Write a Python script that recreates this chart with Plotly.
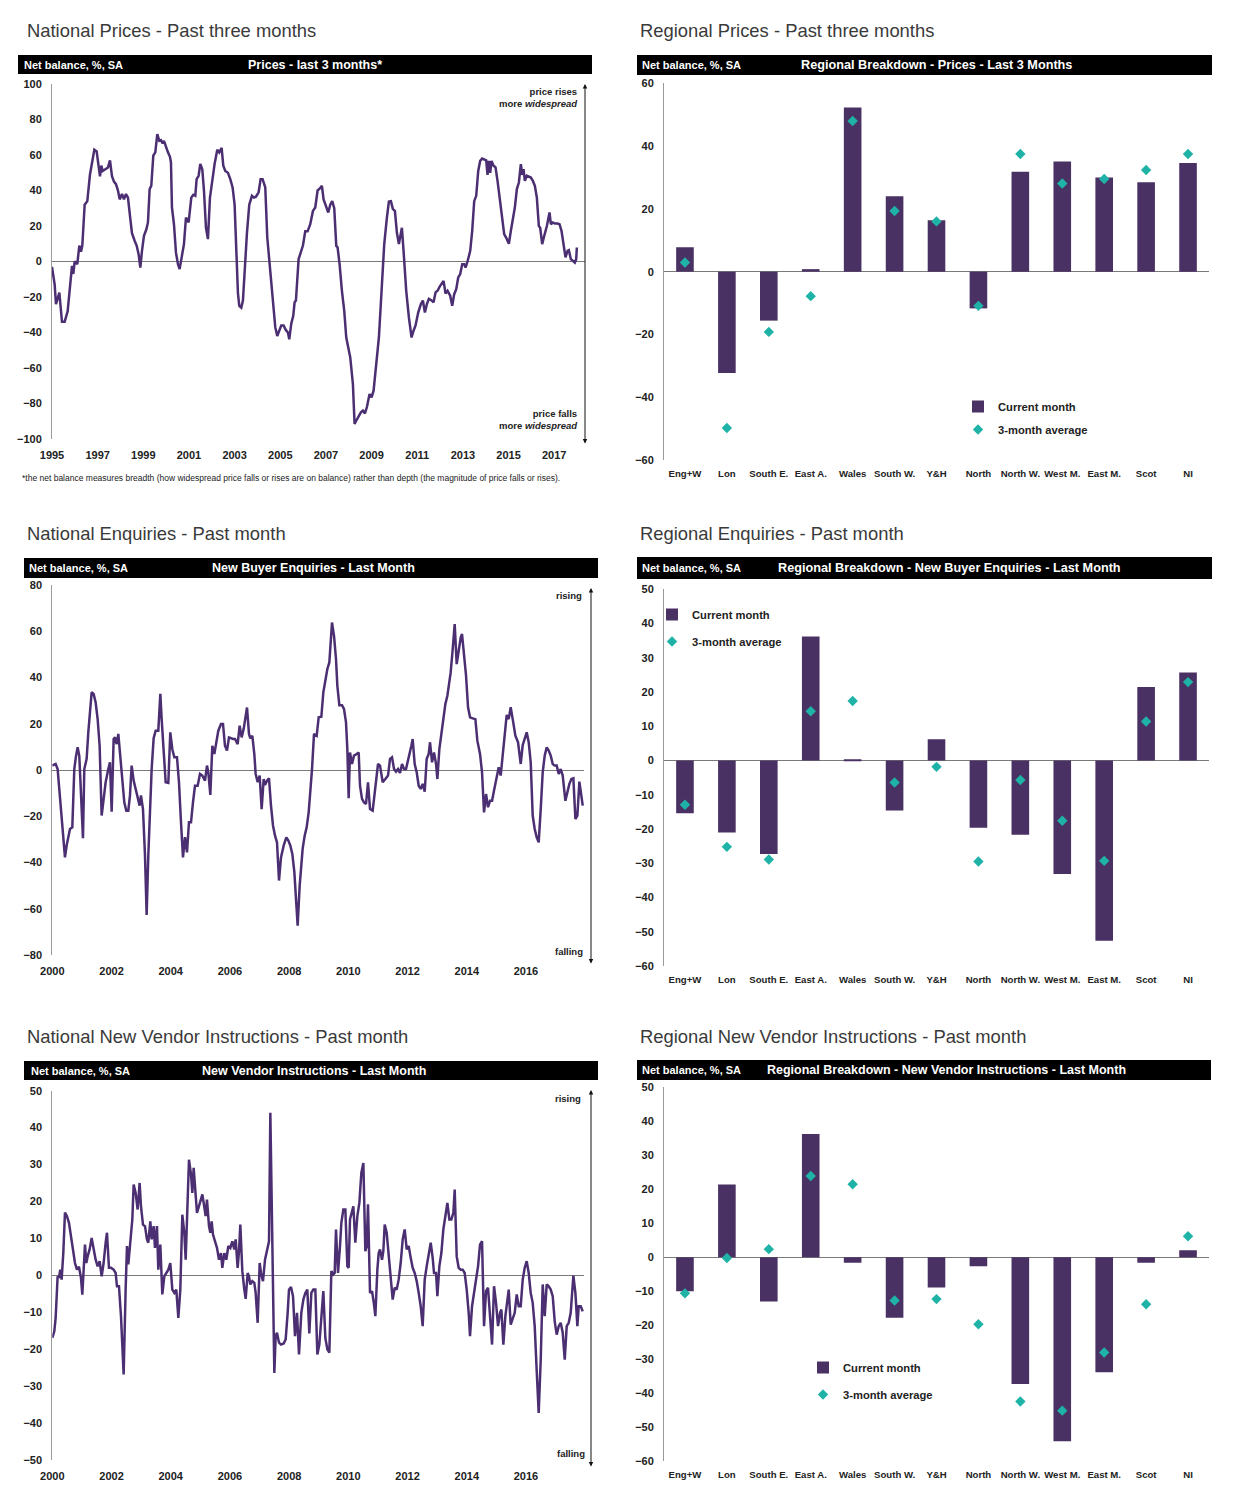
import plotly.graph_objects as go

# page body keeps an 8px margin, so the figure is sized to the area inside it
OFF = 8
W, H = 1220, 1492
def X(px): return (px - OFF) / W
def Y(py): return 1 - (py - OFF) / H

BOLDF = "Liberation Sans, Arial, sans-serif"
REG = "Liberation Sans, Arial, sans-serif"
LINE = "#4b2f72"
BAR = "#4a3163"
TEAL = "#1fb3a7"
TXT = "#222222"

# ---------------- National prices (3 months) ----------------
prices_years = [1995.000,1995.117,1995.175,1995.263,1995.321,1995.438,1995.555,1995.686,1995.803,1995.876,1995.934,1995.993,
1996.109,1996.197,1996.270,1996.328,1996.431,1996.547,1996.664,1996.766,1996.854,1996.956,1997.044,1997.102,1997.161,1997.219,
1997.336,1997.453,1997.540,1997.628,1997.715,1997.803,1997.891,1997.964,1998.066,1998.153,1998.241,1998.328,1998.431,1998.504,
1998.620,1998.708,1998.796,1998.869,1998.942,1999.029,1999.131,1999.204,1999.277,1999.350,1999.438,1999.526,1999.613,1999.701,
1999.774,1999.847,1999.905,1999.993,2000.080,2000.168,2000.212,2000.255,2000.343,2000.431,2000.518,2000.591,2000.693,2000.781,
2000.869,2000.985,2001.102,2001.190,2001.277,2001.336,2001.423,2001.496,2001.584,2001.657,2001.745,2001.832,2001.920,2002.007,
2002.124,2002.241,2002.328,2002.431,2002.504,2002.591,2002.708,2002.810,2002.912,2003.000,2003.073,2003.146,2003.204,2003.292,
2003.365,2003.438,2003.540,2003.642,2003.759,2003.847,2003.934,2004.051,2004.139,2004.226,2004.343,2004.431,2004.562,2004.664,
2004.781,2004.869,2004.956,2005.044,2005.146,2005.248,2005.336,2005.394,2005.482,2005.569,2005.628,2005.686,2005.803,2005.993,
2006.095,2006.197,2006.314,2006.431,2006.533,2006.635,2006.723,2006.825,2006.898,2007.015,2007.102,2007.190,2007.277,2007.365,
2007.453,2007.511,2007.599,2007.701,2007.803,2007.891,2007.949,2008.066,2008.182,2008.255,2008.328,2008.431,2008.533,2008.620,
2008.708,2008.796,2008.912,2009.000,2009.088,2009.204,2009.321,2009.438,2009.555,2009.672,2009.759,2009.847,2009.934,2010.022,
2010.109,2010.197,2010.255,2010.328,2010.401,2010.518,2010.635,2010.752,2010.839,2010.927,2011.044,2011.161,2011.248,2011.336,
2011.423,2011.511,2011.613,2011.715,2011.803,2011.891,2011.978,2012.066,2012.153,2012.241,2012.328,2012.445,2012.533,2012.620,
2012.708,2012.796,2012.883,2012.971,2013.058,2013.117,2013.204,2013.321,2013.409,2013.496,2013.584,2013.672,2013.759,2013.847,
2013.934,2014.022,2014.080,2014.139,2014.197,2014.255,2014.343,2014.431,2014.518,2014.606,2014.693,2014.810,2014.927,2015.015,
2015.102,2015.190,2015.277,2015.365,2015.453,2015.540,2015.599,2015.657,2015.715,2015.803,2015.891,2015.978,2016.066,2016.153,
2016.241,2016.328,2016.387,2016.474,2016.562,2016.679,2016.796,2016.854,2016.942,2017.029,2017.146,2017.234,2017.321,2017.409,
2017.496,2017.584,2017.642,2017.730,2017.818,2017.905,2017.964,2017.993]
prices_vals = [-3,-13,-24,-20,-17.5,-34,-34,-28,-13,-2.5,-7,0,
-1.5,9,5.5,9,32,34,49,58,63,62,55,48,54,51,
52,53,57,48,45,43.6,40,35,38,35,38,36,24,16,
11.7,9,4,-3.4,6,14.5,18,22,40.8,42.7,59.6,61.5,71.8,68,
68.4,66.5,68,64,61.5,59,55.8,30.5,21,5,-1.5,-4.3,2.3,9.8,
24.8,22,36,37.6,37,46.4,48.3,55,52,40,19,12.6,36,44.5,
55,63,61.5,64,54,51,50,46.4,41.7,32,9.8,-18,-25,-26,
-22,-5,16,32,37,36,36.5,39,46.4,46.4,41.7,13.5,-5,-24,
-37,-42,-39,-36,-36,-38.7,-40,-43.8,-35,-30.6,-23,-22,1.3,9,
17,17,21,28.5,30.4,40,41,42.6,35,30.4,27.6,32,34,30,
8.8,8,-1.5,-16.5,-27.8,-42.8,-46.5,-54,-69,-91.5,-89.7,-86.9,-85,-84,
-85.6,-82,-74.7,-76.5,-72.8,-57.8,-42.8,-16.5,9.8,24.8,33.8,34,29.5,28.5,
16.3,9.8,14.4,19,6,-16.5,-31.5,-42.8,-39,-36,-28.7,-24,-22,-28.7,
-24,-21,-21.8,-23,-17.4,-16.5,-14.3,-12.8,-10.9,-18,-16.5,-19.3,-25,-18.4,
-15.6,-9,-7.1,-1.5,-1.5,-3.4,0,6,17.3,34,37,51,56.7,58,
57.6,57,48.8,56.7,50,56.7,54,53,45.4,36,26.6,15.4,12.6,10,
17.3,24.8,30.4,40.8,44.5,54.8,48.8,52,45.4,48.3,47.7,47.3,45.4,42.6,
36,20,19,9.8,14.4,20,27.6,21,22,21.4,21.4,21,17.3,9.8,
2.3,6,6.4,1.3,0.4,-0.6,1.3,7.9]
prices_ticks = [1995,1997,1999,2001,2003,2005,2007,2009,2011,2013,2015,2017]

# ---------------- National new buyer enquiries ----------------
enq_years = [2000.000,2000.068,2000.113,2000.180,2000.259,2000.315,2000.372,2000.428,2000.484,2000.541,2000.597,2000.676,
2000.743,2000.800,2000.856,2000.912,2000.991,2001.036,2001.081,2001.160,2001.216,2001.284,2001.329,2001.396,2001.464,2001.532,
2001.599,2001.667,2001.734,2001.802,2001.892,2001.948,2002.005,2002.072,2002.117,2002.173,2002.230,2002.297,2002.365,2002.432,
2002.500,2002.568,2002.624,2002.680,2002.748,2002.815,2002.883,2002.950,2002.995,2003.063,2003.131,2003.187,2003.243,2003.300,
2003.356,2003.423,2003.491,2003.581,2003.649,2003.694,2003.761,2003.829,2003.919,2003.986,2004.054,2004.122,2004.212,2004.279,
2004.347,2004.414,2004.482,2004.550,2004.617,2004.685,2004.752,2004.820,2004.910,2004.989,2005.068,2005.158,2005.225,2005.270,
2005.338,2005.405,2005.473,2005.541,2005.608,2005.698,2005.766,2005.833,2005.901,2005.968,2006.036,2006.104,2006.171,2006.261,
2006.329,2006.396,2006.464,2006.577,2006.644,2006.689,2006.757,2006.824,2006.869,2006.937,2007.005,2007.072,2007.140,2007.185,
2007.252,2007.320,2007.387,2007.455,2007.523,2007.590,2007.658,2007.725,2007.815,2007.905,2007.973,2008.041,2008.108,2008.176,
2008.243,2008.288,2008.356,2008.457,2008.525,2008.592,2008.660,2008.727,2008.773,2008.840,2008.930,2008.998,2009.088,2009.155,
2009.223,2009.291,2009.358,2009.448,2009.516,2009.583,2009.628,2009.696,2009.786,2009.853,2009.921,2009.966,2010.011,2010.056,
2010.124,2010.191,2010.281,2010.349,2010.394,2010.462,2010.529,2010.597,2010.664,2010.732,2010.822,2010.912,2011.002,2011.070,
2011.160,2011.250,2011.340,2011.408,2011.475,2011.543,2011.610,2011.678,2011.745,2011.813,2011.881,2011.948,2012.038,2012.128,
2012.173,2012.241,2012.309,2012.376,2012.444,2012.511,2012.579,2012.646,2012.714,2012.759,2012.827,2012.894,2012.962,2013.007,
2013.074,2013.142,2013.209,2013.277,2013.345,2013.412,2013.457,2013.525,2013.592,2013.660,2013.727,2013.795,2013.840,2013.908,
2013.975,2014.043,2014.111,2014.201,2014.291,2014.358,2014.448,2014.516,2014.583,2014.651,2014.718,2014.786,2014.854,2014.921,
2014.989,2015.079,2015.146,2015.214,2015.282,2015.349,2015.417,2015.484,2015.552,2015.642,2015.732,2015.822,2015.890,2015.957,
2016.025,2016.092,2016.160,2016.227,2016.295,2016.363,2016.430,2016.498,2016.565,2016.633,2016.700,2016.768,2016.836,2016.903,
2016.971,2017.038,2017.106,2017.173,2017.241,2017.331,2017.399,2017.466,2017.534,2017.601,2017.669,2017.736,2017.804,2017.872,
2017.917]
enq_vals = [1.9,2.2,2.6,0.4,-11,-21,-28,-37.8,-32.7,-28.4,-25.5,-24.8,
0.4,6,9.8,6,-19.7,-29.5,0.4,4.8,16.3,28.5,33.6,32.9,29.2,22,
10.5,-19.7,-12.5,-5.3,0.4,3.3,-18,13.4,14.1,11.2,15.6,6.2,-5.3,-14,
-17.6,-17.6,-11,1.9,-4.6,-8.2,-12.5,-15.4,-11,-16.9,-37,-62.7,-37,-14,
0.4,13.7,17,17,32.9,22,9,-5.3,-5.6,16.3,9,5.5,5.5,-5.3,
-22.6,-37.8,-29,-35.6,-22.6,-22.6,-14,-6.8,-6.8,-1.7,-2.4,-4.6,1.9,-1,
-10.8,10.5,6.9,12,17,19.9,19.9,10.5,8.4,14.1,13.7,13.4,13.4,11.2,
19.2,14.1,17.7,27,15.6,13.7,14.8,6.9,-1.7,-5.3,-2.4,-16.9,-3.9,-6.5,
-4.6,-3.6,-15.4,-24,-28.4,-31.3,-47.8,-37.8,-32.7,-29.1,-30.5,-32.7,-36.3,-44.2,
-58,-67.3,-50,-34,-28.4,-24.8,-18.3,-8.9,0.4,15.6,14.8,22.8,23,33.6,
39.3,43.7,46.5,63.8,58,48,36.5,28,28,26.4,20.6,9,-12.2,7.6,
2.6,6.2,6.9,7.6,-6.8,-12.5,-14,-14.7,-5.3,-16.9,-17.6,-8.2,2.6,1.9,
-5.3,-3.9,-2.4,4.8,5.5,0.4,-0.7,0.4,-1.3,2.6,0.4,0.4,4.8,10.5,
13.4,2.6,-1,-6.8,-8.2,-6,-9.4,4.8,6.9,12,3.3,7.6,2.6,-3.9,
9,14.8,20.6,28.5,32.1,37.2,42.2,52.3,63.1,45.8,52.3,57.3,58.8,49.4,
40.8,27.1,22.8,22.3,22,12.7,6.9,-1,-18.3,-10.4,-16.1,-13.3,-13.3,-8.9,
-3.9,1.2,-2.4,6.2,16.3,23.8,22,27.1,22,14.8,12,2.6,10.8,14.1,
16.3,12,3.3,-19.7,-25.5,-29.1,-31.3,-16.9,-1,6.2,9.8,8.4,6.2,2.6,
1.9,1.9,-1.7,0.4,-2.4,-13.3,-9.7,-6,-3.9,-3.6,-21.2,-19.7,-5,-11,
-15.4]

# ---------------- National new vendor instructions ----------------
nvi_years = [2000.000,2000.068,2000.113,2000.180,2000.225,2000.270,2000.315,2000.372,2000.428,2000.495,2000.563,2000.631,
2000.698,2000.766,2000.833,2000.901,2000.968,2001.014,2001.104,2001.149,2001.194,2001.261,2001.329,2001.396,2001.464,2001.532,
2001.599,2001.667,2001.734,2001.802,2001.847,2001.914,2001.982,2002.072,2002.140,2002.185,2002.252,2002.320,2002.365,2002.410,
2002.477,2002.523,2002.568,2002.635,2002.703,2002.748,2002.815,2002.883,2002.950,2002.995,2003.063,2003.131,2003.198,2003.243,
2003.311,2003.356,2003.423,2003.468,2003.536,2003.581,2003.649,2003.716,2003.784,2003.851,2003.919,2003.986,2004.054,2004.122,
2004.189,2004.257,2004.324,2004.392,2004.459,2004.505,2004.572,2004.617,2004.685,2004.730,2004.775,2004.820,2004.887,2004.955,
2005.023,2005.068,2005.113,2005.180,2005.225,2005.293,2005.338,2005.383,2005.428,2005.495,2005.563,2005.631,2005.698,2005.743,
2005.811,2005.878,2005.946,2006.014,2006.081,2006.149,2006.194,2006.261,2006.306,2006.351,2006.419,2006.486,2006.532,2006.599,
2006.644,2006.689,2006.757,2006.824,2006.869,2006.937,2007.005,2007.050,2007.117,2007.185,2007.252,2007.320,2007.365,2007.410,
2007.455,2007.500,2007.545,2007.590,2007.658,2007.725,2007.815,2007.883,2007.950,2007.995,2008.063,2008.131,2008.198,2008.266,
2008.333,2008.412,2008.480,2008.547,2008.615,2008.682,2008.750,2008.818,2008.885,2008.953,2009.020,2009.088,2009.155,2009.223,
2009.291,2009.358,2009.426,2009.493,2009.538,2009.583,2009.651,2009.718,2009.764,2009.831,2009.899,2009.966,2010.011,2010.056,
2010.124,2010.169,2010.236,2010.304,2010.372,2010.439,2010.507,2010.574,2010.619,2010.664,2010.732,2010.800,2010.867,2010.912,
2010.980,2011.025,2011.070,2011.137,2011.182,2011.228,2011.295,2011.363,2011.430,2011.498,2011.565,2011.633,2011.700,2011.768,
2011.836,2011.903,2011.971,2012.038,2012.106,2012.173,2012.241,2012.309,2012.376,2012.444,2012.511,2012.579,2012.646,2012.714,
2012.782,2012.849,2012.894,2012.962,2013.007,2013.074,2013.142,2013.209,2013.277,2013.345,2013.412,2013.480,2013.547,2013.592,
2013.660,2013.727,2013.795,2013.863,2013.930,2013.998,2014.065,2014.110,2014.178,2014.245,2014.313,2014.381,2014.448,2014.516,
2014.583,2014.651,2014.718,2014.786,2014.854,2014.921,2014.989,2015.056,2015.124,2015.169,2015.236,2015.304,2015.372,2015.417,
2015.484,2015.552,2015.619,2015.687,2015.755,2015.822,2015.890,2015.957,2016.025,2016.092,2016.160,2016.227,2016.295,2016.363,
2016.430,2016.498,2016.565,2016.633,2016.700,2016.768,2016.836,2016.903,2016.971,2017.038,2017.106,2017.173,2017.241,2017.309,
2017.376,2017.444,2017.511,2017.601,2017.669,2017.736,2017.781,2017.849,2017.917]
nvi_vals = [-17,-15.2,-11.6,-0.3,-0.7,1.5,-1.2,6,17,16,14.2,10.6,
7,3.3,1.5,2.3,-0.7,-5.3,8.3,3.3,5.1,7,10.1,7,4.2,2.4,
3.8,-0.3,3.3,8.8,11.5,2,2,1.5,0.6,-3,-3,-11.1,-19.2,-26.9,
-3.9,7.9,2.9,8.8,15.1,24.6,22.3,17.8,25,18.7,13.7,13.3,9.7,8.8,
14.6,9.7,13.3,7.4,13.3,1.5,8.3,-5.2,-0.3,0.6,1.5,3.3,-3.9,-4.8,
-3.9,-11.6,-3.9,16.4,11.5,4.2,21,31.3,27.3,22.3,29.1,24.1,16.9,18.7,
20.5,21.9,19.6,16,20.5,13.3,11.5,14.6,11,9.2,7.4,4.2,6,2,
6,4.2,7.9,7.4,9.2,7,9.7,2,6.5,13.7,1.1,-3.9,-6.4,0.6,
-0.3,-2.5,-1.6,-2.1,-4.8,-12.9,3.3,0.6,-1.6,4.2,6.5,9.2,44,20.5,
0.2,-26.5,-16.5,-15.6,-18.3,-18.8,-18.5,-17.4,-10.2,-3.9,-3.2,-5.7,-16.5,-10.2,
-21.5,-10.2,-6.6,-4.8,-3.9,-15.8,-4.8,-3.9,-3.9,-21.5,-18.8,-11.1,-4.3,-17,
-20.1,-21,1.1,0.2,0.6,12.4,0.6,7.9,14.2,17.8,17.8,2.4,2,15.1,
17.8,18.7,8.8,16,19.6,27.7,30.4,6.5,7.9,19.2,-4.8,-4.3,-7.9,-11.1,
1.5,6,7,4.2,6.5,13.7,11.5,6,-1.2,-6.6,-3.4,-3.9,-1.2,3.3,
9.7,12.4,7,7.9,4.7,2,0.6,-1.6,-4.8,-8.4,-13.8,-1.2,2.4,5.1,
8.8,4.7,0.6,0.6,-5.7,2.4,6,12.4,16,19.6,15.1,15.1,16.9,23.2,
5.1,2,1.5,1.5,0.6,-3.9,-10.2,-16.5,-8.4,-4.8,-1.6,2.4,8.3,9.2,
-13.8,-4.3,-3.4,-12,-18.8,-3,-7.5,-13.8,-10.2,-9.3,-18.8,-11.1,-7.5,-3.9,
-13.4,-12,-10.2,-5.2,-8.4,-8.4,-1.2,2,3.8,0.6,-4.8,-7.5,-13.8,-26,
-37.3,-22.9,-2.5,-11.1,-2.5,-3,-3.9,-5.7,-12.5,-16.1,-13.8,-12.9,-15.6,-22.9,
-13.8,-12.9,-10.2,-0.1,-4.8,-13.8,-8.4,-8.4,-9.8]
monthly_ticks = [2000,2002,2004,2006,2008,2010,2012,2014,2016]

# ---------------- Regional breakdowns ----------------
regions = ["Eng+W","Lon","South E.","East A.","Wales","South W.","Y&H","North","North W.","West M.","East M.","Scot","NI"]
reg_prices_current = [7.8,-32.3,-15.6,0.8,52.3,24,16.4,-11.7,31.8,35.1,30,28.5,34.6]
reg_prices_avg = [2.9,-49.8,-19.2,-7.8,48,19.3,16,-10.9,37.5,28.1,29.5,32.4,37.5]
reg_enq_current = [-15.4,-21,-27.3,36.2,0.4,-14.6,6.2,-19.6,-21.7,-33.1,-52.6,21.5,25.7]
reg_enq_avg = [-12.9,-25.2,-28.9,14.4,17.4,-6.4,-1.85,-29.5,-5.7,-17.6,-29.3,11.4,22.9]
reg_nvi_current = [-10,21.4,-13,36.3,-1.6,-17.8,-8.9,-2.6,-37.3,-54.1,-33.8,-1.6,2.1]
reg_nvi_avg = [-10.6,-0.2,2.4,23.9,21.5,-12.7,-12.3,-19.7,-42.4,-45.1,-28,-13.8,6.2]

fig = go.Figure()

tickfont = dict(family=BOLDF, size=11, color=TXT, weight="bold")
bar_xfont = dict(family=BOLDF, size=9.6, color=TXT, weight="bold")

def line_axes(n, xdom, ydom, xrange, xticks, yrange, dtick):
    sx = "" if n == 1 else str(n)
    fig.layout["xaxis" + sx] = dict(domain=xdom, range=xrange, tickvals=xticks, anchor="y" + sx,
        showgrid=False, zeroline=False, showline=False, ticks="outside", ticklen=6,
        tickcolor="rgba(0,0,0,0)", tickfont=tickfont, fixedrange=True, automargin=False, tickangle=0)
    fig.layout["yaxis" + sx] = dict(domain=ydom, range=yrange, dtick=dtick, anchor="x" + sx,
        showgrid=False, zeroline=True, zerolinecolor="#7a7a7a", zerolinewidth=1,
        showline=True, linecolor="#9a9a9a", linewidth=1, ticks="outside", ticklen=7,
        tickcolor="rgba(0,0,0,0)", tickfont=tickfont, fixedrange=True, automargin=False, tickformat="d")

def bar_axes(n, ydom, yrange, dtick):
    sx = str(n)
    fig.layout["xaxis" + sx] = dict(domain=[X(664), X(1209)], range=[-0.5, 12.5], type="category",
        categoryorder="array", categoryarray=regions, anchor="y" + sx,
        showgrid=False, zeroline=False, showline=False, ticks="outside", ticklen=4,
        tickcolor="rgba(0,0,0,0)", tickfont=bar_xfont, fixedrange=True, automargin=False, tickangle=0)
    fig.layout["yaxis" + sx] = dict(domain=ydom, range=yrange, dtick=dtick, anchor="x" + sx,
        showgrid=False, zeroline=True, zerolinecolor="#7a7a7a", zerolinewidth=1,
        showline=True, linecolor="#9a9a9a", linewidth=1, ticks="outside", ticklen=7,
        tickcolor="rgba(0,0,0,0)", tickfont=tickfont, fixedrange=True, automargin=False, tickformat="d")

line_axes(1, [X(52), X(585)], [Y(439), Y(84)], [1995, 2018.35], prices_ticks, [-100, 100], 20)
line_axes(2, [X(52.3), X(584)], [Y(955), Y(585)], [2000, 2017.96], monthly_ticks, [-80, 80], 20)
line_axes(3, [X(52.3), X(584)], [Y(1459.7), Y(1090.7)], [2000, 2017.96], monthly_ticks, [-50, 50], 10)
bar_axes(4, [Y(460), Y(83.3)], [-60, 60], 20)
bar_axes(5, [Y(966), Y(589.3)], [-60, 50], 10)
bar_axes(6, [Y(1461.3), Y(1087.3)], [-60, 50], 10)

for xs, ys, n in [(prices_years, prices_vals, 1), (enq_years, enq_vals, 2), (nvi_years, nvi_vals, 3)]:
    sx = "" if n == 1 else str(n)
    fig.add_trace(go.Scatter(x=xs, y=ys, mode="lines", line=dict(color=LINE, width=2.5),
                             xaxis="x" + sx, yaxis="y" + sx, showlegend=False, hoverinfo="skip"))

for cur, avg, n, lg in [(reg_prices_current, reg_prices_avg, 4, "legend"),
                        (reg_enq_current, reg_enq_avg, 5, "legend2"),
                        (reg_nvi_current, reg_nvi_avg, 6, "legend3")]:
    sx = str(n)
    fig.add_trace(go.Bar(x=regions, y=cur, width=0.42, marker=dict(color=BAR, line=dict(width=0)),
                         name="Current month", xaxis="x" + sx, yaxis="y" + sx, legend=lg,
                         legendgroup="c" + sx))
    fig.add_trace(go.Scatter(x=regions, y=avg, mode="markers",
                             marker=dict(symbol="diamond", size=8, color=TEAL),
                             name="3-month average", xaxis="x" + sx, yaxis="y" + sx, legend=lg,
                             legendgroup="a" + sx))

legfont = dict(family=BOLDF, size=11.2, color=TXT, weight="bold")
leg_common = dict(xanchor="left", yanchor="top", bgcolor="rgba(0,0,0,0)", font=legfont,
                  traceorder="grouped", itemwidth=30)
fig.update_layout(
    legend=dict(x=X(958), y=Y(392), tracegroupgap=4, **leg_common),
    legend2=dict(x=X(652), y=Y(600), tracegroupgap=8, **leg_common),
    legend3=dict(x=X(803), y=Y(1353), tracegroupgap=8, **leg_common),
)

shapes = []
annotations = []

# Panel titles
titles = [("National Prices - Past three months", 25, 30),
          ("National Enquiries - Past month", 25, 533),
          ("National New Vendor Instructions - Past month", 25, 1036),
          ("Regional Prices - Past three months", 638, 30),
          ("Regional Enquiries - Past month", 638, 533),
          ("Regional New Vendor Instructions - Past month", 638, 1036)]
for t, px, py in titles:
    annotations.append(dict(text=t, x=X(px), y=Y(py), xref="paper", yref="paper", xanchor="left",
                            yanchor="middle", showarrow=False,
                            font=dict(family=REG, size=18.4, color="#3a3a3a")))

# Black header bars
headers = [(18, 592, 55, 74, 22, "Prices - last 3 months*", 315, 12.5),
           (24, 598, 558, 578, 27, "New Buyer Enquiries - Last Month", 313, 12.5),
           (24, 598, 1061, 1080, 29, "New Vendor Instructions - Last Month", 314, 12.5),
           (637, 1212, 55, 75, 640, "Regional Breakdown - Prices - Last 3 Months", 936, 12.7),
           (637, 1212, 557, 579, 640, "Regional Breakdown - New Buyer Enquiries - Last Month", 949, 12.7),
           (637, 1211, 1060, 1080, 640, "Regional Breakdown - New Vendor Instructions - Last Month", 946, 12.5)]
for x0, x1, y0, y1, lx, txt, cx, fs in headers:
    shapes.append(dict(type="rect", xref="paper", yref="paper", x0=X(x0), x1=X(x1), y0=Y(y1), y1=Y(y0),
                       fillcolor="black", line=dict(width=0), layer="above"))
    cy = (y0 + y1) / 2
    annotations.append(dict(text="Net balance, %, SA", x=X(lx), y=Y(cy), xref="paper", yref="paper",
                            xanchor="left", yanchor="middle", showarrow=False,
                            font=dict(family=BOLDF, size=11, color="white", weight="bold")))
    annotations.append(dict(text=txt, x=X(cx), y=Y(cy), xref="paper", yref="paper",
                            xanchor="center", yanchor="middle", showarrow=False,
                            font=dict(family=BOLDF, size=fs, color="white", weight="bold")))

# Double-headed arrows on national charts
for ax_x, top, bot in [(585, 84, 445), (591, 588, 965), (591, 1090, 1468)]:
    annotations.append(dict(text="", x=X(ax_x), y=Y(top), xref="paper", yref="paper",
                            ax=0, ay=bot - top, axref="pixel", ayref="pixel", showarrow=True,
                            arrowside="end+start", arrowhead=2, arrowsize=0.9, arrowwidth=1,
                            arrowcolor="#111111"))

side_font = dict(family=BOLDF, size=9.5, color=TXT, weight="bold")
annotations += [
    dict(text="price rises<br>more <i>widespread</i>", x=X(579), y=Y(84), xanchor="right", yanchor="top",
         align="right", xref="paper", yref="paper", showarrow=False, font=side_font),
    dict(text="price falls<br>more <i>widespread</i>", x=X(579), y=Y(406), xanchor="right", yanchor="top",
         align="right", xref="paper", yref="paper", showarrow=False, font=side_font),
    dict(text="rising", x=X(584), y=Y(595), xanchor="right", yanchor="middle", xref="paper", yref="paper",
         showarrow=False, font=side_font),
    dict(text="falling", x=X(585), y=Y(951), xanchor="right", yanchor="middle", xref="paper", yref="paper",
         showarrow=False, font=side_font),
    dict(text="rising", x=X(583), y=Y(1098), xanchor="right", yanchor="middle", xref="paper", yref="paper",
         showarrow=False, font=side_font),
    dict(text="falling", x=X(587), y=Y(1453), xanchor="right", yanchor="middle", xref="paper", yref="paper",
         showarrow=False, font=side_font),
    dict(text="*the net balance measures breadth (how widespread price falls or rises are on balance) rather than depth (the magnitude of price falls or rises).",
         x=X(20), y=Y(478), xanchor="left", yanchor="middle", xref="paper", yref="paper", showarrow=False,
         font=dict(family=REG, size=8.5, color=TXT)),
]

fig.update_layout(width=W, height=H, margin=dict(l=0, r=0, t=0, b=0, autoexpand=False),
                  paper_bgcolor="white", plot_bgcolor="white",
                  shapes=shapes, annotations=annotations, bargap=0.5)

fig.write_html("out.html")
